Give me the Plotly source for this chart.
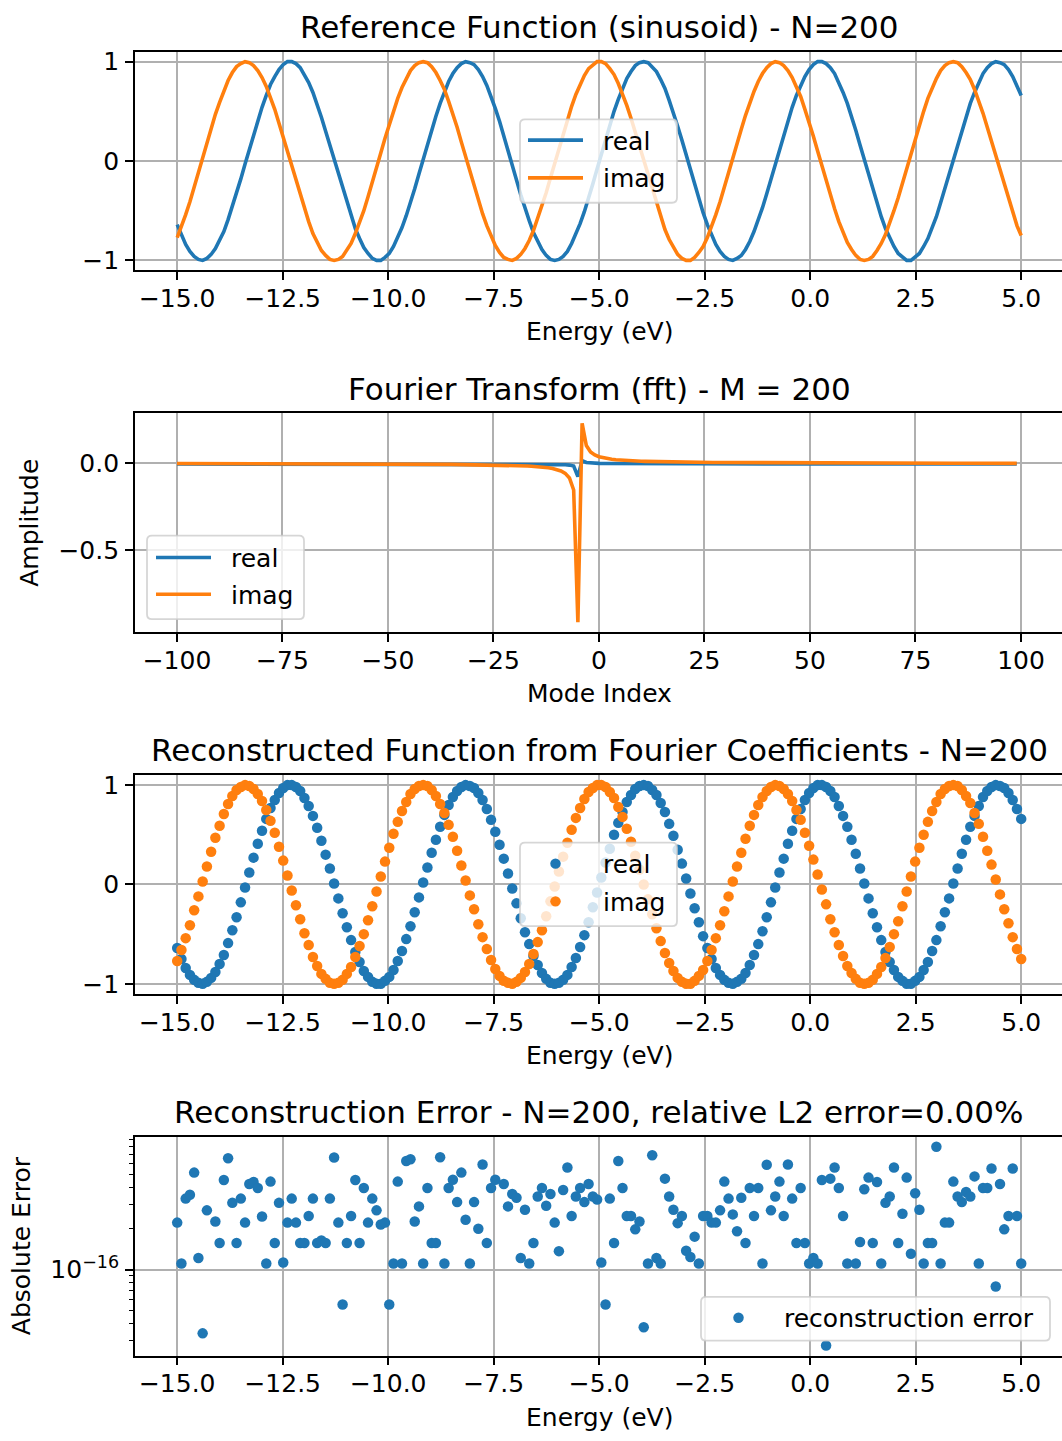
import numpy as np
import plotly.graph_objects as go

# ---------------- data ----------------
N = 200
energy = np.linspace(-15, 5, N)          # energy grid (eV), N=200 samples
modes = list(range(-100, 100))           # Fourier mode index

ref_real = [
    -0.64, -0.75, -0.84, -0.91, -0.96, -0.99, -1.00, -0.98, -0.94, -0.88,
    -0.80, -0.71, -0.59, -0.46, -0.33, -0.18, -0.03, 0.12, 0.27, 0.41,
    0.54, 0.66, 0.77, 0.85, 0.92, 0.97, 1.00, 1.00, 0.98, 0.94,
    0.87, 0.79, 0.69, 0.57, 0.44, 0.30, 0.16, 0.01, -0.14, -0.29,
    -0.43, -0.56, -0.68, -0.78, -0.87, -0.93, -0.98, -1.00, -1.00, -0.97,
    -0.93, -0.86, -0.77, -0.67, -0.55, -0.42, -0.28, -0.13, 0.02, 0.17,
    0.32, 0.45, 0.58, 0.70, 0.80, 0.88, 0.94, 0.98, 1.00, 0.99,
    0.97, 0.92, 0.85, 0.76, 0.65, 0.53, 0.40, 0.26, 0.11, -0.04,
    -0.19, -0.34, -0.48, -0.60, -0.72, -0.81, -0.89, -0.95, -0.99, -1.00,
    -0.99, -0.96, -0.91, -0.83, -0.74, -0.63, -0.51, -0.38, -0.23, -0.08,
    0.07, 0.22, 0.36, 0.50, 0.62, 0.73, 0.83, 0.90, 0.96, 0.99,
    1.00, 0.99, 0.95, 0.90, 0.82, 0.73, 0.61, 0.49, 0.35, 0.21,
    0.06, -0.09, -0.24, -0.38, -0.52, -0.64, -0.75, -0.84, -0.91, -0.96,
    -0.99, -1.00, -0.98, -0.95, -0.89, -0.81, -0.71, -0.60, -0.47, -0.33,
    -0.18, -0.03, 0.12, 0.26, 0.41, 0.54, 0.66, 0.76, 0.85, 0.92,
    0.97, 1.00, 1.00, 0.98, 0.94, 0.88, 0.79, 0.69, 0.58, 0.45,
    0.31, 0.16, 0.01, -0.14, -0.29, -0.43, -0.56, -0.68, -0.78, -0.86,
    -0.93, -0.97, -1.00, -1.00, -0.97, -0.93, -0.86, -0.78, -0.67, -0.56,
    -0.42, -0.28, -0.14, 0.01, 0.16, 0.31, 0.45, 0.58, 0.69, 0.79,
    0.88, 0.94, 0.98, 1.00, 0.99, 0.97, 0.92, 0.85, 0.76, 0.66,
]
ref_imag = [
    -0.77, -0.66, -0.54, -0.41, -0.26, -0.12, 0.03, 0.18, 0.33, 0.47,
    0.59, 0.71, 0.81, 0.89, 0.95, 0.98, 1.00, 0.99, 0.96, 0.91,
    0.84, 0.75, 0.64, 0.52, 0.38, 0.24, 0.09, -0.06, -0.21, -0.35,
    -0.49, -0.61, -0.73, -0.82, -0.90, -0.95, -0.99, -1.00, -0.99, -0.96,
    -0.90, -0.83, -0.73, -0.62, -0.50, -0.36, -0.22, -0.07, 0.08, 0.23,
    0.37, 0.51, 0.63, 0.74, 0.83, 0.91, 0.96, 0.99, 1.00, 0.99,
    0.95, 0.89, 0.81, 0.72, 0.60, 0.48, 0.34, 0.19, 0.04, -0.11,
    -0.25, -0.40, -0.53, -0.65, -0.76, -0.85, -0.92, -0.97, -0.99, -1.00,
    -0.98, -0.94, -0.88, -0.80, -0.70, -0.58, -0.46, -0.32, -0.17, -0.02,
    0.13, 0.28, 0.42, 0.55, 0.67, 0.77, 0.86, 0.93, 0.97, 1.00,
    1.00, 0.98, 0.93, 0.87, 0.78, 0.68, 0.56, 0.43, 0.29, 0.15,
    0.00, -0.15, -0.30, -0.44, -0.57, -0.69, -0.79, -0.87, -0.94, -0.98,
    -1.00, -1.00, -0.97, -0.92, -0.86, -0.77, -0.66, -0.54, -0.41, -0.27,
    -0.12, 0.03, 0.18, 0.32, 0.46, 0.59, 0.70, 0.80, 0.88, 0.94,
    0.98, 1.00, 0.99, 0.96, 0.91, 0.84, 0.75, 0.65, 0.52, 0.39,
    0.25, 0.10, -0.05, -0.20, -0.35, -0.48, -0.61, -0.72, -0.82, -0.89,
    -0.95, -0.99, -1.00, -0.99, -0.96, -0.90, -0.83, -0.74, -0.63, -0.50,
    -0.37, -0.22, -0.07, 0.08, 0.23, 0.37, 0.50, 0.63, 0.74, 0.83,
    0.91, 0.96, 0.99, 1.00, 0.99, 0.95, 0.89, 0.82, 0.72, 0.61,
    0.48, 0.34, 0.20, 0.05, -0.10, -0.25, -0.39, -0.53, -0.65, -0.75,
]

fft_real = [
    -0.0029, -0.0029, -0.0029, -0.0029, -0.0029, -0.0029, -0.0029, -0.0029, -0.0029, -0.0029,
    -0.0030, -0.0030, -0.0030, -0.0030, -0.0030, -0.0030, -0.0030, -0.0030, -0.0030, -0.0030,
    -0.0030, -0.0030, -0.0030, -0.0030, -0.0030, -0.0030, -0.0030, -0.0030, -0.0030, -0.0030,
    -0.0030, -0.0030, -0.0030, -0.0030, -0.0030, -0.0031, -0.0031, -0.0031, -0.0031, -0.0031,
    -0.0031, -0.0031, -0.0031, -0.0031, -0.0031, -0.0031, -0.0031, -0.0032, -0.0032, -0.0032,
    -0.0032, -0.0032, -0.0032, -0.0032, -0.0033, -0.0033, -0.0033, -0.0033, -0.0033, -0.0033,
    -0.0033, -0.0033, -0.0033, -0.0034, -0.0034, -0.0034, -0.0034, -0.0034, -0.0034, -0.0034,
    -0.0035, -0.0035, -0.0035, -0.0035, -0.0036, -0.0036, -0.0036, -0.0036, -0.0037, -0.0037,
    -0.0038, -0.0038, -0.0039, -0.0040, -0.0041, -0.0042, -0.0043, -0.0045, -0.0049, -0.0052,
    -0.0057, -0.0064, -0.0075, -0.0096, -0.0151, -0.0757, 0.0154, 0.0052, 0.0023, 0.0010,
    0.0001, -0.0004, -0.0008, -0.0010, -0.0012, -0.0014, -0.0015, -0.0016, -0.0017, -0.0018,
    -0.0019, -0.0019, -0.0020, -0.0020, -0.0021, -0.0021, -0.0021, -0.0022, -0.0022, -0.0022,
    -0.0023, -0.0023, -0.0023, -0.0023, -0.0023, -0.0024, -0.0024, -0.0024, -0.0024, -0.0024,
    -0.0025, -0.0025, -0.0025, -0.0025, -0.0025, -0.0025, -0.0025, -0.0025, -0.0025, -0.0025,
    -0.0026, -0.0026, -0.0026, -0.0026, -0.0026, -0.0026, -0.0026, -0.0026, -0.0026, -0.0026,
    -0.0027, -0.0027, -0.0027, -0.0027, -0.0027, -0.0027, -0.0027, -0.0027, -0.0027, -0.0027,
    -0.0027, -0.0027, -0.0027, -0.0027, -0.0027, -0.0028, -0.0028, -0.0028, -0.0028, -0.0028,
    -0.0028, -0.0028, -0.0028, -0.0028, -0.0028, -0.0028, -0.0028, -0.0028, -0.0028, -0.0028,
    -0.0028, -0.0028, -0.0028, -0.0028, -0.0028, -0.0029, -0.0029, -0.0029, -0.0029, -0.0029,
    -0.0029, -0.0029, -0.0029, -0.0029, -0.0029, -0.0029, -0.0029, -0.0029, -0.0029, -0.0029,
]
fft_imag = [
    0.0000, 0.0000, -0.0001, -0.0001, -0.0001, -0.0002, -0.0003, -0.0003, -0.0004, -0.0004,
    -0.0005, -0.0005, -0.0006, -0.0006, -0.0007, -0.0007, -0.0008, -0.0008, -0.0009, -0.0009,
    -0.0010, -0.0010, -0.0011, -0.0011, -0.0012, -0.0012, -0.0013, -0.0013, -0.0014, -0.0014,
    -0.0015, -0.0016, -0.0016, -0.0017, -0.0018, -0.0019, -0.0019, -0.0020, -0.0021, -0.0021,
    -0.0022, -0.0023, -0.0024, -0.0025, -0.0026, -0.0027, -0.0027, -0.0028, -0.0029, -0.0030,
    -0.0031, -0.0032, -0.0033, -0.0034, -0.0036, -0.0037, -0.0038, -0.0040, -0.0041, -0.0043,
    -0.0045, -0.0047, -0.0048, -0.0050, -0.0052, -0.0054, -0.0057, -0.0059, -0.0062, -0.0064,
    -0.0067, -0.0071, -0.0074, -0.0078, -0.0082, -0.0086, -0.0091, -0.0096, -0.0102, -0.0109,
    -0.0117, -0.0126, -0.0136, -0.0148, -0.0161, -0.0177, -0.0197, -0.0222, -0.0253, -0.0294,
    -0.0352, -0.0437, -0.0574, -0.0836, -0.1535, -0.9160, 0.2312, 0.1028, 0.0661, 0.0488,
    0.0386, 0.0320, 0.0273, 0.0238, 0.0211, 0.0189, 0.0172, 0.0157, 0.0145, 0.0134,
    0.0125, 0.0117, 0.0110, 0.0103, 0.0098, 0.0093, 0.0088, 0.0084, 0.0080, 0.0076,
    0.0073, 0.0070, 0.0067, 0.0064, 0.0062, 0.0060, 0.0057, 0.0055, 0.0053, 0.0051,
    0.0050, 0.0048, 0.0047, 0.0045, 0.0044, 0.0043, 0.0041, 0.0040, 0.0039, 0.0038,
    0.0036, 0.0035, 0.0035, 0.0034, 0.0033, 0.0032, 0.0031, 0.0030, 0.0029, 0.0028,
    0.0027, 0.0027, 0.0026, 0.0025, 0.0025, 0.0024, 0.0023, 0.0022, 0.0022, 0.0021,
    0.0020, 0.0020, 0.0019, 0.0018, 0.0018, 0.0017, 0.0016, 0.0016, 0.0015, 0.0015,
    0.0014, 0.0014, 0.0013, 0.0013, 0.0012, 0.0012, 0.0011, 0.0011, 0.0010, 0.0010,
    0.0009, 0.0009, 0.0009, 0.0008, 0.0008, 0.0007, 0.0007, 0.0006, 0.0006, 0.0005,
    0.0005, 0.0005, 0.0004, 0.0004, 0.0003, 0.0002, 0.0002, 0.0002, 0.0001, 0.0001,
]

# reconstruction equals the reference to machine precision
rec_real = list(ref_real)
rec_imag = list(ref_imag)

# absolute reconstruction error (None = exactly zero, not drawn on log axis)
abs_error = [
    2.22e-16, 1.11e-16, 3.33e-16, 3.56e-16, 5.17e-16, 1.22e-16, 3.41e-17, 2.73e-16, None, 2.26e-16,
    1.57e-16, 4.56e-16, 6.60e-16, 3.10e-16, 1.57e-16, 3.33e-16, 2.22e-16, 4.26e-16, 4.41e-16, 3.98e-16,
    2.46e-16, 1.11e-16, 4.44e-16, 1.57e-16, 3.10e-16, 1.13e-16, 2.22e-16, 3.33e-16, 2.22e-16, 1.57e-16,
    1.57e-16, 2.48e-16, 3.33e-16, 1.57e-16, 1.64e-16, 1.57e-16, 3.33e-16, 6.67e-16, 2.22e-16, 5.55e-17,
    1.57e-16, 2.48e-16, 4.56e-16, 1.57e-16, 3.98e-16, 2.22e-16, 3.33e-16, 2.73e-16, 2.15e-16, 2.22e-16,
    5.55e-17, 1.11e-16, 4.44e-16, 1.11e-16, 6.30e-16, 6.48e-16, 2.26e-16, 2.92e-16, 1.11e-16, 3.98e-16,
    1.57e-16, 1.57e-16, 6.70e-16, 1.11e-16, 3.98e-16, 4.58e-16, 3.14e-16, 5.17e-16, 2.33e-16, 1.11e-16,
    3.14e-16, 2.00e-16, 5.93e-16, 1.57e-16, 3.98e-16, 4.58e-16, None, 4.26e-16, 2.92e-16, 3.60e-16,
    3.38e-16, 1.22e-16, 2.76e-16, 1.11e-16, 1.57e-16, 3.45e-16, 3.98e-16, 2.95e-16, 3.60e-16, 2.22e-16,
    1.37e-16, 3.85e-16, 5.63e-16, 2.48e-16, 3.45e-16, 3.98e-16, 3.14e-16, 4.26e-16, 3.45e-16, 3.28e-16,
    1.13e-16, 5.55e-17, 3.33e-16, 1.57e-16, 6.30e-16, 3.98e-16, 2.48e-16, 2.48e-16, 1.98e-16, 2.26e-16,
    3.78e-17, 1.11e-16, 6.94e-16, 1.22e-16, 1.11e-16, 4.67e-16, 3.45e-16, 2.76e-16, 2.20e-16, 2.48e-16,
    1.38e-16, 1.24e-16, 1.75e-16, 1.11e-16, 2.48e-16, 2.48e-16, 2.22e-16, 2.22e-16, 2.73e-16, 4.44e-16,
    3.33e-16, 2.55e-16, 1.92e-16, 3.38e-16, 1.57e-16, 3.98e-16, 2.48e-16, 3.98e-16, 1.11e-16, 5.90e-16,
    2.73e-16, 3.45e-16, 4.44e-16, 2.48e-16, 5.93e-16, 3.33e-16, 1.57e-16, 3.98e-16, 1.57e-16, 1.11e-16,
    1.22e-16, 1.11e-16, 4.56e-16, 2.78e-17, 4.67e-16, 5.63e-16, 3.98e-16, 2.48e-16, 1.11e-16, None,
    1.11e-16, 1.60e-16, 3.90e-16, 4.75e-16, 1.57e-16, 4.41e-16, 1.11e-16, 3.10e-16, 3.45e-16, 5.63e-16,
    1.57e-16, 2.58e-16, 4.75e-16, 1.31e-16, 3.65e-16, 2.76e-16, 1.11e-16, 1.57e-16, 1.57e-16, 8.00e-16,
    1.11e-16, 2.22e-16, 2.22e-16, 4.44e-16, 3.45e-16, 3.14e-16, 3.72e-16, 3.45e-16, 4.85e-16, 1.11e-16,
    3.98e-16, 3.98e-16, 5.54e-16, 7.53e-17, 4.26e-16, 1.98e-16, 2.48e-16, 5.54e-16, 2.48e-16, 1.11e-16,
]

energy_ticks = [-15.0, -12.5, -10.0, -7.5, -5.0, -2.5, 0.0, 2.5, 5.0]
mode_ticks = [-100, -75, -50, -25, 0, 25, 50, 75, 100]

# ---------------- styling ----------------
W, H = 1062, 1441
BLUE = "#1f77b4"
ORANGE = "#ff7f0e"
FONT = "DejaVu Sans"
TICK_FS = 25
TITLE_FS = 31
GRID = "#b0b0b0"
LW = 3.6
MS = 10.5


def fmt(v, dec):
    s = f"{abs(v):.{dec}f}" if dec > 0 else f"{abs(int(round(v)))}"
    return ("\u2212" + s) if v < 0 else s


def ydom(top, bot):
    return [1 - bot / H, 1 - top / H]


def px(x):
    return x / W


def py(y):
    return 1 - y / H


x0 = 135 / W
axes_px = [(48, 268), (412, 632), (776, 996), (1140, 1360)]

fig = go.Figure()

# panel 1: reference function
fig.add_trace(go.Scatter(x=energy, y=ref_real, mode="lines", name="real",
                         line=dict(color=BLUE, width=LW), xaxis="x", yaxis="y"))
fig.add_trace(go.Scatter(x=energy, y=ref_imag, mode="lines", name="imag",
                         line=dict(color=ORANGE, width=LW), xaxis="x", yaxis="y"))
# panel 2: Fourier transform
fig.add_trace(go.Scatter(x=modes, y=fft_real, mode="lines", name="real",
                         line=dict(color=BLUE, width=LW), xaxis="x2", yaxis="y2"))
fig.add_trace(go.Scatter(x=modes, y=fft_imag, mode="lines", name="imag",
                         line=dict(color=ORANGE, width=LW), xaxis="x2", yaxis="y2"))
# panel 3: reconstructed
fig.add_trace(go.Scatter(x=energy, y=rec_real, mode="markers", name="real",
                         marker=dict(color=BLUE, size=MS), xaxis="x3", yaxis="y3"))
fig.add_trace(go.Scatter(x=energy, y=rec_imag, mode="markers", name="imag",
                         marker=dict(color=ORANGE, size=MS), xaxis="x3", yaxis="y3"))
# panel 4: error
fig.add_trace(go.Scatter(x=energy, y=abs_error, mode="markers", name="reconstruction error",
                         marker=dict(color=BLUE, size=MS), xaxis="x4", yaxis="y4"))

tickfont = dict(family=FONT, size=TICK_FS, color="black")


def xaxis_cfg(anchor, rng, tvals, ttext):
    return dict(domain=[x0, 1.0], anchor=anchor, range=rng,
                tickmode="array", tickvals=tvals, ticktext=ttext,
                ticks="outside", ticklen=8, tickwidth=1.8, tickcolor="black",
                showline=True, linecolor="black", linewidth=1.8, mirror=True,
                showgrid=True, gridcolor=GRID, gridwidth=1.8, zeroline=False,
                tickfont=tickfont, ticklabelstandoff=-3)


def yaxis_cfg(anchor, dom, rng, tvals, ttext, typ="linear"):
    return dict(domain=dom, anchor=anchor, range=rng, type=typ,
                tickmode="array", tickvals=tvals, ticktext=ttext,
                ticks="outside", ticklen=8, tickwidth=1.8, tickcolor="black",
                showline=True, linecolor="black", linewidth=1.8, mirror=False,
                showgrid=True, gridcolor=GRID, gridwidth=1.8, zeroline=False,
                tickfont=tickfont, ticklabelstandoff=1)


e_span = (W - 135) / 42.2
m_span = (W - 135) / 4.22
e_range = [-16, -16 + e_span]
m_range = [-109.95, -109.95 + m_span]
e_text = [fmt(v, 1) for v in energy_ticks]
m_text = [fmt(v, 0) for v in mode_ticks]

layout = dict(
    width=W, height=H, margin=dict(l=0, r=0, t=0, b=0),
    paper_bgcolor="white", plot_bgcolor="white", showlegend=False,
    font=dict(family=FONT, size=TICK_FS, color="black"),
    xaxis=xaxis_cfg("y", e_range, energy_ticks, e_text),
    yaxis=yaxis_cfg("x", ydom(*axes_px[0]), [-1.1, 1.1], [-1, 0, 1], ["\u22121", "0", "1"]),
    xaxis2=xaxis_cfg("y2", m_range, mode_ticks, m_text),
    yaxis2=yaxis_cfg("x2", ydom(*axes_px[1]), [-0.9734, 0.2886], [-0.5, 0.0], ["\u22120.5", "0.0"]),
    xaxis3=xaxis_cfg("y3", e_range, energy_ticks, e_text),
    yaxis3=yaxis_cfg("x3", ydom(*axes_px[2]), [-1.1, 1.1], [-1, 0, 1], ["\u22121", "0", "1"]),
    xaxis4=xaxis_cfg("y4", e_range, energy_ticks, e_text),
    yaxis4=yaxis_cfg("x4", ydom(*axes_px[3]), [-16.63, -15.024], [1e-16],
                     ["10<sup>\u221216</sup>"], typ="log"),
)
layout["yaxis4"]["minor"] = dict(
    tickmode="array",
    tickvals=[3e-17, 4e-17, 5e-17, 6e-17, 7e-17, 8e-17, 9e-17,
              2e-16, 3e-16, 4e-16, 5e-16, 6e-16, 7e-16, 8e-16, 9e-16],
    ticks="outside", ticklen=4.5, tickwidth=1.4, tickcolor="black", showgrid=False)

fig.update_layout(**layout)


# ---------------- legends (matplotlib-style boxes) ----------------
def rrect_path(x0p, y0p, x1p, y1p, r=5):
    pts = []
    def P(x, y):
        return f"{px(x):.5f},{py(y):.5f}"
    d = (f"M{P(x0p + r, y0p)} L{P(x1p - r, y0p)} Q{P(x1p, y0p)} {P(x1p, y0p + r)} "
         f"L{P(x1p, y1p - r)} Q{P(x1p, y1p)} {P(x1p - r, y1p)} "
         f"L{P(x0p + r, y1p)} Q{P(x0p, y1p)} {P(x0p, y1p - r)} "
         f"L{P(x0p, y0p + r)} Q{P(x0p, y0p)} {P(x0p + r, y0p)} Z")
    return d


def add_legend(box, entries, kind):
    bx0, by0, bx1, by1 = box
    fig.add_shape(type="path", path=rrect_path(bx0, by0, bx1, by1), xref="paper", yref="paper",
                  fillcolor="rgba(255,255,255,0.8)", line=dict(color="rgba(204,204,204,0.8)", width=1.8),
                  layer="above")
    for label, color, hx0, hx1, hy, tx in entries:
        if kind == "line":
            fig.add_shape(type="line", x0=px(hx0), x1=px(hx1), y0=py(hy), y1=py(hy),
                          xref="paper", yref="paper", line=dict(color=color, width=LW), layer="above")
        else:
            cx = (hx0 + hx1) / 2
            r = MS / 2
            fig.add_shape(type="circle", x0=px(cx - r), x1=px(cx + r), y0=py(hy + r), y1=py(hy - r),
                          xref="paper", yref="paper", fillcolor=color, line=dict(width=0), layer="above")
        fig.add_annotation(text=label, x=px(tx), y=py(hy + 1), xref="paper", yref="paper",
                           xanchor="left", yanchor="middle", showarrow=False,
                           font=dict(family=FONT, size=TICK_FS, color="black"))


add_legend((520, 116, 677, 200),
           [("real", BLUE, 528, 583, 137, 601), ("imag", ORANGE, 528, 583, 175, 601)], "line")
add_legend((147, 535, 304, 619),
           [("real", BLUE, 156, 211, 557, 229), ("imag", ORANGE, 156, 211, 594, 229)], "line")
add_legend((520, 844, 677, 928),
           [("real", BLUE, 528, 583, 865, 601), ("imag", ORANGE, 528, 583, 903, 601)], "marker")
add_legend((701, 1301, 1050, 1345),
           [("reconstruction error", BLUE, 711, 766, 1322, 782)], "marker")

# titles and axis labels
titles = [
    ("Reference Function (sinusoid) - N=200", 23),
    ("Fourier Transform (fft) - M = 200", 387),
    ("Reconstructed Function from Fourier Coefficients - N=200", 751),
    ("Reconstruction Error - N=200, relative L2 error=0.00%", 1115),
]
for txt, yy in titles:
    fig.add_annotation(text=txt, x=px(599), y=py(yy), xref="paper", yref="paper",
                       xanchor="center", yanchor="middle", showarrow=False,
                       font=dict(family=FONT, size=TITLE_FS, color="black"))

xlabels = [("Energy (eV)", 330), ("Mode Index", 694), ("Energy (eV)", 1058), ("Energy (eV)", 1422)]
for txt, yy in xlabels:
    fig.add_annotation(text=txt, x=px(599), y=py(yy), xref="paper", yref="paper",
                       xanchor="center", yanchor="middle", showarrow=False,
                       font=dict(family=FONT, size=TICK_FS, color="black"))

ylabels = [("Amplitude", 30, 522), ("Absolute Error", 21, 1250)]
for txt, xx, yy in ylabels:
    fig.add_annotation(text=txt, x=px(xx), y=py(yy), xref="paper", yref="paper",
                       xanchor="center", yanchor="middle", showarrow=False, textangle=-90,
                       font=dict(family=FONT, size=TICK_FS, color="black"))

fig.write_html("out.html")
